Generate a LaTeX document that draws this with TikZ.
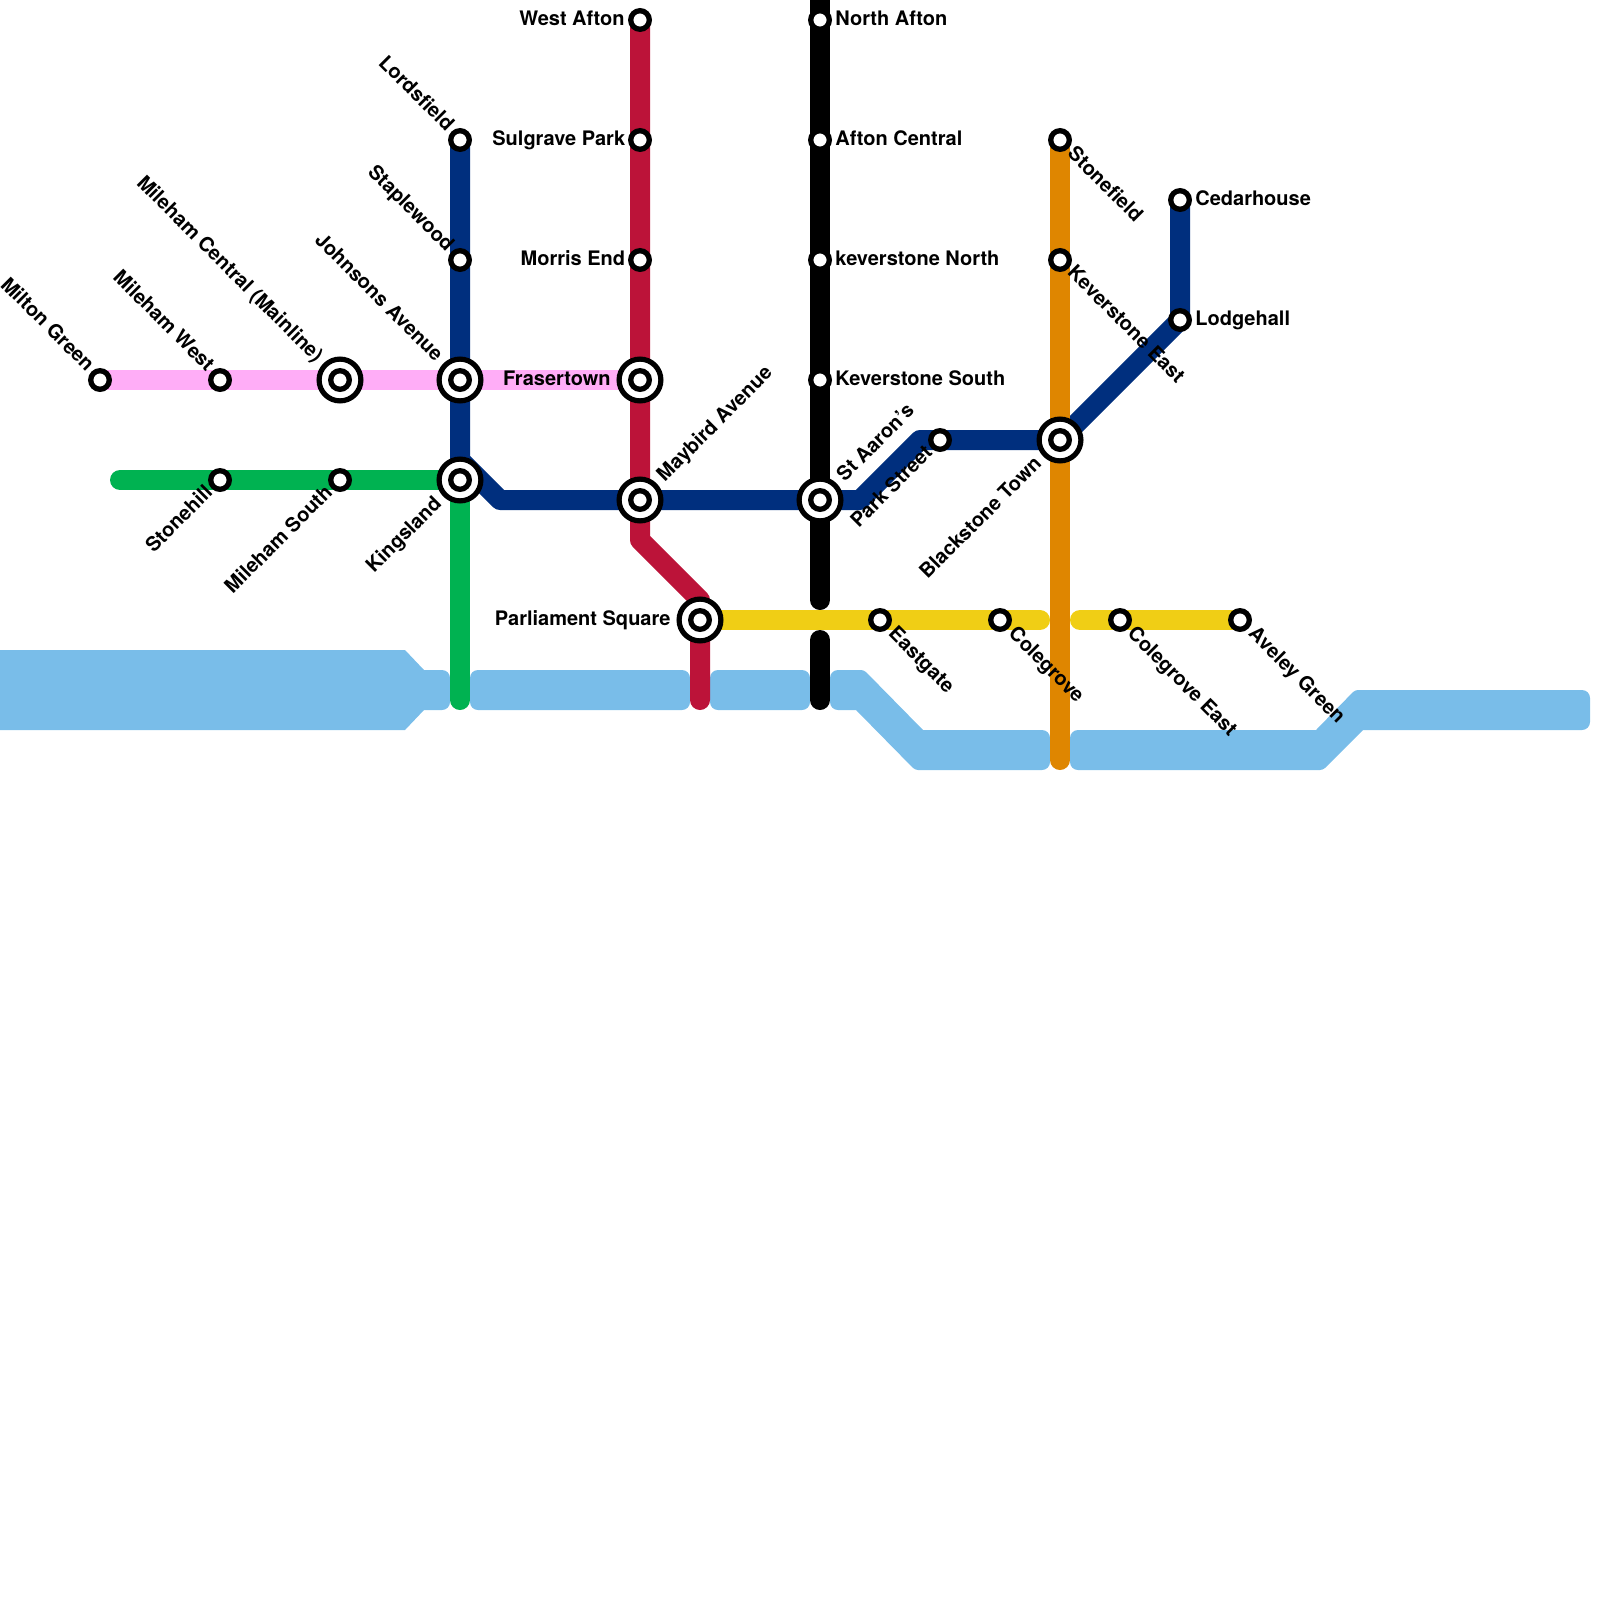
\documentclass[tikz,border=0pt]{standalone}
\usepackage{fontspec}
\setmainfont{TeX Gyre Heros}
\usetikzlibrary{backgrounds}

\definecolor{watercol}{HTML}{79BDE9}
\definecolor{pinkline}{HTML}{FFADF7}
\definecolor{greenline}{HTML}{00B251}
\definecolor{navyline}{HTML}{002F7E}
\definecolor{redline}{HTML}{BC1339}
\definecolor{yellowline}{HTML}{F0CE15}
\definecolor{orangeline}{HTML}{DF8600}

\tikzset{
	metro/.style={line width=10pt,line cap=round,line join=round},
	water/.style={fill=watercol},
	stn/.style={draw=black,fill=white,circle,inner sep=0pt,line width=2.65pt,minimum size=9.3pt},
	stnbig/.style={draw=black,fill=white,circle,inner sep=0pt,line width=2.6pt,minimum size=20.9pt},
	lbl/.style={inner sep=0pt,font=\fontsize{10pt}{12pt}\selectfont\bfseries}
}

\begin{document}
\begin{tikzpicture}[x=0.5pt,y=-0.5pt]

\useasboundingbox (0,0) rectangle (1600,1600);

\foreach \n/\x/\y in {milton/100/380,milew/220/380,stoneh/220/480,miles/340/480,
	lords/460/140,staple/460/260,wafton/640/20,sulg/640/140,morris/640/260,
	nafton/820/20,afton/820/140,kevn/820/260,kevs/820/380,park/940/440,
	stonef/1060/140,keve/1060/260,cedar/1180/200,lodge/1180/320,
	east/880/620,coleg/1000/620,colege/1120/620,aveley/1240/620} {
	\node [stn] (\n) at (\x,\y) {};
}

\foreach \n/\x/\y in {milec/340/380,johns/460/380,fraser/640/380,kings/460/480,
	maybird/640/500,aaron/820/500,parl/700/620,black/1060/440} {
	\node [stnbig] (\n) at (\x,\y) {};
	\node [stn] (\n-in) at (\x,\y) {};
}

\foreach \n/\t/\x/\y in {wafton/West Afton/625/20,sulg/Sulgrave Park/625.5/140,
	morris/Morris End/625.5/260,fraser/Frasertown/611/380,parl/Parliament Square/671/620} {
	\node [lbl,anchor=mid east] (l-\n) at (\x,\y) {\t};
}

\foreach \n/\t/\x/\y in {nafton/North Afton/835/20,afton/Afton Central/835/140,
	kevn/keverstone North/835/260,kevs/Keverstone South/835/380,
	cedar/Cedarhouse/1195/200,lodge/Lodgehall/1195/320} {
	\node [lbl,anchor=mid west] (l-\n) at (\x,\y) {\t};
}

\foreach \n/\t/\x/\y in {milton/Milton Green/90/369,milew/Mileham West/210/369,
	milec/{Mileham Central (Mainline)}/319/360,johns/Johnsons Avenue/439/359,
	lords/Lordsfield/450/129,staple/Staplewood/450/249} {
	\node [lbl,rotate=-45,anchor=mid east] (l-\n) at (\x,\y) {\t};
}

\foreach \n/\t/\x/\y in {stonef/Stonefield/1070/151,keve/Keverstone East/1070/270,
	east/Eastgate/891/631,coleg/Colegrove/1011/631,colege/Colegrove East/1130/631,
	aveley/Aveley Green/1251/631} {
	\node [lbl,rotate=-45,anchor=mid west] (l-\n) at (\x,\y) {\t};
}

\foreach \n/\t/\x/\y in {stoneh/Stonehill/210/490,miles/Mileham South/330/490,
	kings/Kingsland/439/501,park/Park Street/930/450,black/Blackstone Town/1039/461} {
	\node [lbl,rotate=45,anchor=mid east] (l-\n) at (\x,\y) {\t};
}

\foreach \n/\t/\x/\y in {maybird/Maybird Avenue/661/479,aaron/St Aaron's/841/479} {
	\node [lbl,rotate=45,anchor=mid west] (l-\n) at (\x,\y) {\t};
}

\coordinate (gstart) at (120,480);
\coordinate (gend) at (460,700);
\coordinate (nb0) at (460,460);
\coordinate (nb1) at (500,500);
\coordinate (nb2) at (860,500);
\coordinate (nb3) at (920,440);
\coordinate (rb1) at (640,540);
\coordinate (rb2) at (700,600);
\coordinate (rend) at (700,700);
\coordinate (ktop) at (820,-20);
\coordinate (kgap1) at (820,600);
\coordinate (kgap2) at (820,640);
\coordinate (kend) at (820,700);
\coordinate (ygap1) at (1040,620);
\coordinate (ygap2) at (1080,620);
\coordinate (oend) at (1060,760);

\begin{pgfonlayer}{background}

\fill [water] (-10,650) -- (405,650) -- (424,670) [rounded corners=4pt] -- (450,670) -- (450,710) [sharp corners] -- (424,710) -- (405,730) -- (-10,730) -- cycle;
\fill [water,rounded corners=4pt] (470,670) rectangle (690,710);
\fill [water,rounded corners=4pt] (710,670) rectangle (810,710);
\fill [water] (923,730) [rounded corners=4pt] -- (1050,730) -- (1050,770) [rounded corners=1.5pt] -- (915,770) [sharp corners] -- (856,710) [rounded corners=4pt] -- (830,710) -- (830,670) [rounded corners=1.5pt] -- (864,670) [sharp corners] -- cycle;
\fill [water] (1316,730) [rounded corners=1.5pt] -- (1355,690) [rounded corners=4pt] -- (1590,690) -- (1590,730) [sharp corners] -- (1363,730) [rounded corners=1.5pt] -- (1323,770) [rounded corners=4pt] -- (1070,770) -- (1070,730) [sharp corners] -- cycle;

\draw [metro,pinkline] (milton.center) -- (fraser.center);
\draw [metro,greenline] (gstart) -- (kings.center) -- (gend);
\draw [metro,navyline] (lords.center) -- (nb0) -- (nb1) -- (aaron.center) -- (nb2) -- (nb3) -- (black.center) -- (lodge.center) -- (cedar.center);
\draw [metro,redline] (wafton.center) -- (rb1) -- (rb2) -- (rend);
\draw [metro,black] (ktop) -- (kgap1);
\draw [metro,black] (kgap2) -- (kend);
\draw [metro,yellowline] (parl.center) -- (ygap1);
\draw [metro,yellowline] (ygap2) -- (aveley.center);
\draw [metro,orangeline] (stonef.center) -- (oend);

\end{pgfonlayer}

\end{tikzpicture}
\end{document}
